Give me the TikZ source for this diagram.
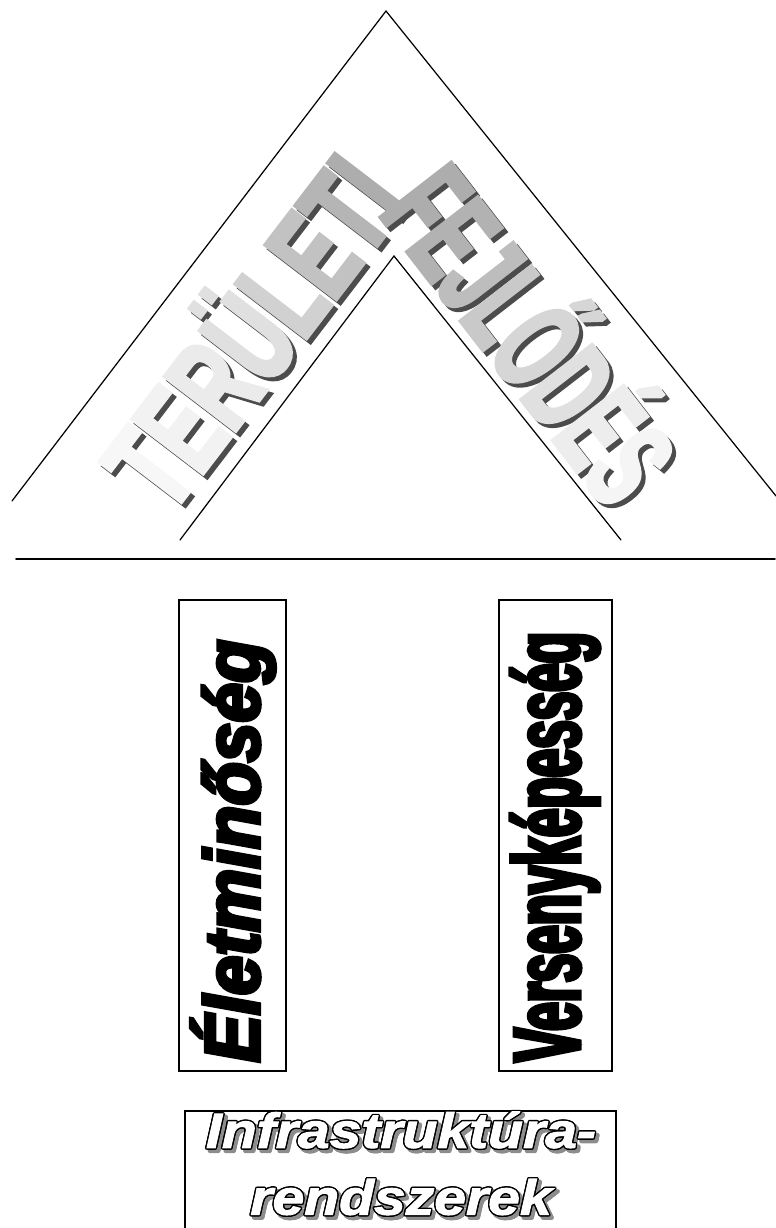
\documentclass[tikz,border=0pt]{standalone}
\usepackage{fontspec}
\setmainfont{Liberation Sans}
\newfontfamily\roofleftfont[FakeStretch=0.62,FakeBold=3]{Liberation Sans}
\newfontfamily\roofrightfont[FakeStretch=0.55,FakeBold=3]{Liberation Sans}
\newfontfamily\lifefont[FakeStretch=0.92,FakeBold=5]{Liberation Sans}
\newfontfamily\competefont[FakeStretch=0.54,FakeBold=4]{Liberation Sans}
\newfontfamily\infrafont[FakeStretch=1.16,FakeBold=2]{Liberation Sans}
% one letter of the roof words in its own grey
\newcommand\gl[2]{\textcolor[gray]{#1}{#2}}

\begin{document}
\begin{tikzpicture}[x=0.02cm,y=-0.02cm,line cap=round,
    roofline/.style={line width=0.7pt},
    groundline/.style={line width=1.1pt},
    pillarbox/.style={draw,line width=1pt,inner sep=0pt,minimum width=2.14cm},
    roofword/.style={inner sep=0pt,font=\fontsize{74}{74}\selectfont\bfseries},
    pillarword/.style={inner sep=0pt,rotate=90},
    baseword/.style={inner sep=0pt,font=\infrafont\fontsize{28}{28}\selectfont\bfseries\itshape}]
  \useasboundingbox (0,0) rectangle (775,1228);

  % roof
  \coordinate (apex) at (386,11);
  \coordinate (outerL) at (12,501);
  \coordinate (outerR) at (776,496);
  \coordinate (innerApex) at (394,256);
  \coordinate (innerL) at (180,540);
  \coordinate (innerR) at (621,540);
  \draw[roofline] (outerL) -- (apex) -- (outerR);
  \draw[roofline] (innerL) -- (innerApex) -- (innerR);

  \node[roofword,rotate=52.6,text=black!70] (teruletiShadow) at (250,331)
    {\roofleftfont TERÜLETI};
  \node[roofword,rotate=52.6] (teruleti) at (246,327)
    {\roofleftfont\gl{0.97}{T}\gl{0.95}{E}\gl{0.92}{R}\gl{0.88}{Ü}\gl{0.82}{L}\gl{0.76}{E}\gl{0.71}{T}\gl{0.68}{I}};
  \node[roofword,rotate=-52.3,text=black!70] (fejlodesShadow) at (542,332)
    {\roofrightfont FEJLŐDÉS};
  \node[roofword,rotate=-52.3] (fejlodes) at (538,328)
    {\roofrightfont\gl{0.68}{F}\gl{0.70}{E}\gl{0.74}{J}\gl{0.79}{L}\gl{0.84}{Ő}\gl{0.88}{D}\gl{0.93}{É}\gl{0.96}{S}};

  % ground
  \coordinate (groundL) at (16,559);
  \coordinate (groundR) at (775,559);
  \draw[groundline] (groundL) -- (groundR);

  % pillars
  \node[pillarbox,minimum height=9.42cm] (lifebox) at (232.5,835.5) {};
  \node[pillarbox,minimum width=2.26cm,minimum height=9.42cm] (competebox) at (555.5,835.5) {};
  \node[pillarword,font=\lifefont\fontsize{44}{44}\selectfont\bfseries\itshape] (life) at (233,851) {Életminőség};
  \node[pillarword,font=\competefont\fontsize{54}{54}\selectfont\bfseries] (compete) at (555,847) {Versenyképesség};

  % base
  \draw[line width=1pt] (185,1240) -- (185,1111) -- (616,1111) -- (616,1240);
  \coordinate (infra) at (401,1130);
  \coordinate (infra-shadow) at (404,1133);
  \coordinate (rendsz) at (401,1197);
  \coordinate (rendsz-shadow) at (404,1200);
  \foreach \p/\w in {infra/{Infrastruktúra-},rendsz/{rendszerek}} {
    \foreach \a in {0,30,...,330}
      \node[baseword,text=black!45] at ([shift={(\a:1pt)}]\p-shadow) {\w};
    \foreach \a in {0,30,...,330}
      \node[baseword,text=black] at ([shift={(\a:0.8pt)}]\p) {\w};
    \node[baseword,text=white] (\p-text) at (\p) {\w};
  }
\end{tikzpicture}
\end{document}
